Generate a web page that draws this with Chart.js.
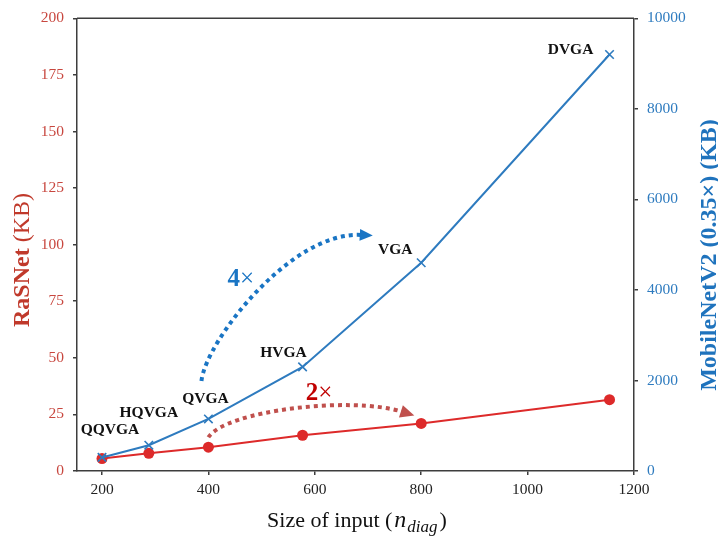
<!DOCTYPE html>
<html>
<head>
<meta charset="utf-8">
<title>RaSNet vs MobileNetV2 memory</title>
<script src="https://cdn.jsdelivr.net/npm/chart.js"></script>
<style>
  html, body { margin: 0; padding: 0; background: #fff; }
  #wrap { width: 718px; height: 536px; }
</style>
</head>
<body>
<div id="wrap"><canvas id="chart" width="718" height="536"></canvas></div>
<script>
// input resolutions and their diagonal size (pixels)
const resolutions = ['QQVGA', 'HQVGA', 'QVGA', 'HVGA', 'VGA', 'DVGA'];
const nDiag = [200, 288, 400, 577, 800, 1154];

// memory needed (KB)
const rasnetKB = [5.5, 7.8, 10.5, 15.8, 21, 31.5];
const mobilenetKB = [300, 570, 1150, 2300, 4600, 9200];

// tick labels
const xTicks = [200, 400, 600, 800, 1000, 1200];
const leftTicks = [0, 25, 50, 75, 100, 125, 150, 175, 200];
const rightTicks = [0, 2000, 4000, 6000, 8000, 10000];

// growth arrows, in data units (bezier: start, ctrl1, ctrl2, end)
const arrow4x = [[387, 1990], [395, 2860], [555, 5300], [709, 5200]];   // right axis
const arrow2x = [[400, 14.9], [432, 26.7], [668, 33.3], [787, 24.5]];   // left axis
const label4x = [461, 4280];
const label2x = [608, 35.4];

// where each resolution name sits relative to its MobileNet point (px)
const labelOffsets = [[8, -27], [0, -32], [-3, -20], [-19, -14], [-26, -13], [-39, -5]];

const SERIF = "'Liberation Serif', 'Times New Roman', serif";
const BLUE = '#2e7bbf';
const RED = '#dd2a2a';
const AXIS = '#3d3d3d';

function fixedTicks(values) {
    return scale => { scale.ticks = values.map(v => ({ value: v })); };
}

// draw a dotted bezier with a triangle head
function drawArrow(ctx, pts, color, dash, width, headLen, headW) {
    ctx.save();
    ctx.strokeStyle = color;
    ctx.fillStyle = color;
    ctx.lineWidth = width;
    ctx.setLineDash(dash);
    const [p0, p1, p2, p3] = pts;
    const dx = p3[0] - p2[0], dy = p3[1] - p2[1];
    const len = Math.hypot(dx, dy);
    const ux = dx / len, uy = dy / len;
    ctx.beginPath();
    ctx.moveTo(p0[0], p0[1]);
    ctx.bezierCurveTo(p1[0], p1[1], p2[0], p2[1], p3[0] - ux * headLen * 0.9, p3[1] - uy * headLen * 0.9);
    ctx.stroke();
    ctx.setLineDash([]);
    const bx = p3[0] - ux * headLen, by = p3[1] - uy * headLen;
    ctx.beginPath();
    ctx.moveTo(p3[0], p3[1]);
    ctx.lineTo(bx - uy * headW / 2, by + ux * headW / 2);
    ctx.lineTo(bx + uy * headW / 2, by - ux * headW / 2);
    ctx.closePath();
    ctx.fill();
    ctx.restore();
}

// text made of pieces with their own font, laid out left to right
function drawPieces(ctx, pieces, cx, baseline) {
    let total = 0;
    pieces.forEach(p => { ctx.font = p.font; total += ctx.measureText(p.text).width + (p.gap || 0); });
    let x = cx - total / 2;
    ctx.textAlign = 'left';
    ctx.textBaseline = 'alphabetic';
    pieces.forEach(p => {
        ctx.font = p.font;
        ctx.fillStyle = p.color;
        ctx.fillText(p.text, x, baseline + (p.dy || 0));
        x += ctx.measureText(p.text).width + (p.gap || 0);
    });
}

const decorPlugin = {
    id: 'decor',
    afterDatasetsDraw(chart) {
        const { ctx, chartArea: a, scales } = chart;
        const sx = scales.x, yl = scales.yL, yr = scales.yR;

        // top frame line
        ctx.save();
        ctx.strokeStyle = AXIS;
        ctx.lineWidth = 1.5;
        ctx.beginPath();
        ctx.moveTo(a.left, a.top);
        ctx.lineTo(a.right, a.top);
        ctx.stroke();
        ctx.restore();

        // resolution names next to the MobileNet markers
        ctx.save();
        ctx.font = 'bold 15.5px ' + SERIF;
        ctx.fillStyle = '#111';
        ctx.textAlign = 'center';
        ctx.textBaseline = 'middle';
        resolutions.forEach((name, i) => {
            const px = sx.getPixelForValue(nDiag[i]) + labelOffsets[i][0];
            const py = yr.getPixelForValue(mobilenetKB[i]) + labelOffsets[i][1];
            ctx.fillText(name, px, py);
        });
        ctx.restore();

        // growth arrows
        const toR = p => [sx.getPixelForValue(p[0]), yr.getPixelForValue(p[1])];
        const toL = p => [sx.getPixelForValue(p[0]), yl.getPixelForValue(p[1])];
        drawArrow(ctx, arrow4x.map(toR), '#1a75c4', [4, 4], 4, 13, 12);
        drawArrow(ctx, arrow2x.map(toL), '#c0504d', [4, 4], 4, 14, 13);

        const l4 = toR(label4x), l2 = toL(label2x);
        drawPieces(ctx, [
            { text: '4', font: 'bold 25px ' + SERIF, color: '#1a75c4' },
            { text: '×', font: '25px ' + SERIF, color: '#1a75c4' }
        ], l4[0], l4[1] + 9);
        drawPieces(ctx, [
            { text: '2', font: 'bold 25px ' + SERIF, color: '#c00000' },
            { text: '×', font: '25px ' + SERIF, color: '#c00000' }
        ], l2[0], l2[1] + 9);

        // left axis title
        ctx.save();
        ctx.translate(21, 260);
        ctx.rotate(-Math.PI / 2);
        drawPieces(ctx, [
            { text: 'RaSNet ', font: 'bold 24px ' + SERIF, color: '#c0392b' },
            { text: '(KB)', font: '24px ' + SERIF, color: '#c0392b' }
        ], 0, 8);
        ctx.restore();

        // right axis title
        ctx.save();
        ctx.translate(708, 255);
        ctx.rotate(-Math.PI / 2);
        drawPieces(ctx, [
            { text: 'MobileNetV2 (0.35×) (KB)', font: 'bold 24px ' + SERIF, color: '#1f73bd' }
        ], 0, 8);
        ctx.restore();

        // x axis title with subscript
        drawPieces(ctx, [
            { text: 'Size of input (', font: '22px ' + SERIF, color: '#111', gap: 2 },
            { text: 'n', font: 'italic 24px ' + SERIF, color: '#111', gap: 1 },
            { text: 'diag', font: 'italic 17px ' + SERIF, color: '#111', dy: 5, gap: 2 },
            { text: ')', font: '22px ' + SERIF, color: '#111' }
        ], 357, 527);
    }
};

const ctx = document.getElementById('chart').getContext('2d');
const plain = v => String(v);

new Chart(ctx, {
    type: 'line',
    data: {
        datasets: [
            {
                label: 'MobileNetV2 (0.35×)',
                data: nDiag.map((x, i) => ({ x: x, y: mobilenetKB[i] })),
                yAxisID: 'yR',
                borderColor: BLUE,
                borderWidth: 2,
                tension: 0,
                pointStyle: 'crossRot',
                pointRadius: 6,
                pointBorderWidth: 1.6,
                pointBorderColor: BLUE,
                pointBackgroundColor: BLUE
            },
            {
                label: 'RaSNet',
                data: nDiag.map((x, i) => ({ x: x, y: rasnetKB[i] })),
                yAxisID: 'yL',
                borderColor: RED,
                borderWidth: 2,
                tension: 0,
                pointStyle: 'circle',
                pointRadius: 5.5,
                pointBorderWidth: 0,
                pointBackgroundColor: RED
            }
        ]
    },
    options: {
        responsive: false,
        animation: false,
        devicePixelRatio: 1,
        layout: { padding: { top: 13, left: 0, right: 0, bottom: 0 } },
        plugins: {
            legend: { display: false },
            tooltip: { enabled: false }
        },
        scales: {
            x: {
                type: 'linear',
                min: 153,
                max: 1200,
                afterBuildTicks: fixedTicks(xTicks),
                afterFit: s => { s.height = 65; },
                border: { display: true, color: AXIS, width: 1.5 },
                grid: { display: true, drawOnChartArea: false, drawTicks: true, tickLength: 4, color: AXIS, lineWidth: 1.5 },
                ticks: { color: '#222', padding: 6, maxRotation: 0, callback: plain, font: { family: SERIF, size: 15.5 } }
            },
            yL: {
                type: 'linear',
                position: 'left',
                min: 0,
                max: 200,
                afterBuildTicks: fixedTicks(leftTicks),
                afterFit: s => { s.width = 77; },
                border: { display: true, color: AXIS, width: 1.5 },
                grid: { display: true, drawOnChartArea: false, drawTicks: true, tickLength: 4, color: AXIS, lineWidth: 1.5 },
                ticks: { color: '#c8473f', padding: 9, callback: plain, font: { family: SERIF, size: 15.5 } }
            },
            yR: {
                type: 'linear',
                position: 'right',
                min: 0,
                max: 10000,
                afterBuildTicks: fixedTicks(rightTicks),
                afterFit: s => { s.width = 84; },
                border: { display: true, color: AXIS, width: 1.5 },
                grid: { display: true, drawOnChartArea: false, drawTicks: true, tickLength: 4, color: AXIS, lineWidth: 1.5 },
                ticks: { color: '#2e7bbf', padding: 9, callback: plain, font: { family: SERIF, size: 15.5 } }
            }
        }
    },
    plugins: [decorPlugin]
});
</script>
</body>
</html>
